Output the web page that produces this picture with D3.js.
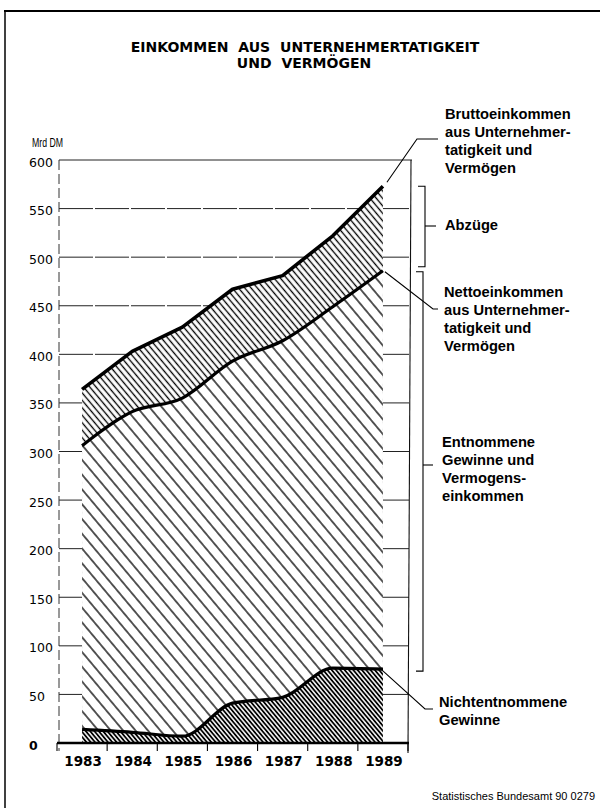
<!DOCTYPE html>
<html lang="de">
<head>
<meta charset="utf-8">
<title>Einkommen aus Unternehmertätigkeit und Vermögen</title>
<script src="https://cdn.jsdelivr.net/npm/d3@7"></script>
<style>
  html, body { margin: 0; padding: 0; background: #fff; }
  svg { display: block; }
</style>
</head>
<body>
<div id="chart"></div>
<script>
// --- Data (Mrd DM) ---
const years = ["1983", "1984", "1985", "1986", "1987", "1988", "1989"];
const brutto = [364, 403, 428, 467, 481, 522, 573];          // Bruttoeinkommen
const netto = [306, 341, 355, 393, 414, 449, 486];           // Nettoeinkommen
const nichtentnommen = [14, 11, 7, 41, 47, 77, 76];          // Nichtentnommene Gewinne
const yTicks = [0, 50, 100, 150, 200, 250, 300, 350, 400, 450, 500, 550, 600];

const W = 600, H = 808;
const svg = d3.select("#chart").append("svg")
  .attr("width", W).attr("height", H)
  .attr("viewBox", `0 0 ${W} ${H}`);

// --- Scales ---
const x = d3.scaleBand().domain(years).range([57, 408]).padding(0);
const cx = d => x(d) + x.bandwidth() / 2;
const y = d3.scaleLinear().domain([0, 600]).range([743, 160]);

const rows = years.map((yr, i) => ({ yr, b: brutto[i], n: netto[i], r: nichtentnommen[i] }));

// --- Hatch patterns ---
const defs = svg.append("defs");
function hatch(id, gap, width) {
  const p = defs.append("pattern")
    .attr("id", id)
    .attr("patternUnits", "userSpaceOnUse")
    .attr("width", gap).attr("height", gap)
    .attr("patternTransform", "rotate(-40)");
  p.append("rect").attr("width", gap).attr("height", gap).attr("fill", "#fff");
  p.append("line")
    .attr("x1", gap / 2).attr("x2", gap / 2)
    .attr("y1", 0).attr("y2", gap)
    .attr("stroke", "#000").attr("stroke-width", width);
}
hatch("h-abzug", 4.8, 1.35);
hatch("h-entnommen", 9.5, 1.3);
hatch("h-nicht", 3.3, 1.8);

// --- Frame ---
svg.append("line").attr("x1", 4).attr("x2", 600).attr("y1", 11).attr("y2", 11)
  .attr("stroke", "#000").attr("stroke-width", 2);
svg.append("line").attr("x1", 5).attr("x2", 5).attr("y1", 11).attr("y2", H)
  .attr("stroke", "#000").attr("stroke-width", 1.5);

// --- Title ---
const title = svg.append("text")
  .attr("text-anchor", "middle")
  .style("font-family", "'DejaVu Sans', sans-serif")
  .style("font-weight", "700")
  .style("font-size", "14px")
  .style("word-spacing", "5px");
title.append("tspan").attr("x", 305).attr("y", 52).text("EINKOMMEN AUS UNTERNEHMERTATIGKEIT");
title.append("tspan").attr("x", 304).attr("y", 67.5).text("UND VERMÖGEN");

// --- Grid ---
const left = 59, right = 409;
svg.append("g").selectAll("line")
  .data(yTicks.filter(v => v > 0))
  .join("line")
  .attr("x1", left).attr("x2", d => d === 600 ? 412 : right)
  .attr("y1", d => y(d)).attr("y2", d => y(d))
  .attr("stroke", "#222").attr("stroke-width", 1)
  .attr("stroke-dasharray", d => d === 600 ? null : "34,2");

svg.append("line").attr("x1", left).attr("x2", left).attr("y1", y(600)).attr("y2", y(0) + 8)
  .attr("stroke", "#333").attr("stroke-width", 1).attr("stroke-dasharray", "10,4");
svg.append("line").attr("x1", 411).attr("x2", 408).attr("y1", y(600)).attr("y2", y(0) + 10)
  .attr("stroke", "#111").attr("stroke-width", 1.1);

// --- Areas ---
const base = y(0);
svg.append("path").datum(rows)
  .attr("fill", "url(#h-abzug)")
  .attr("d", d3.area().x(d => cx(d.yr)).y0(base).y1(d => y(d.b)));
svg.append("path").datum(rows)
  .attr("fill", "url(#h-entnommen)")
  .attr("d", d3.area().curve(d3.curveMonotoneX).x(d => cx(d.yr)).y0(base).y1(d => y(d.n)));
svg.append("path").datum(rows)
  .attr("fill", "url(#h-nicht)")
  .attr("d", d3.area().curve(d3.curveMonotoneX).x(d => cx(d.yr)).y0(base).y1(d => y(d.r)));

// --- Lines ---
svg.append("path").datum(rows)
  .attr("fill", "none").attr("stroke", "#000").attr("stroke-width", 3.6)
  .attr("stroke-linejoin", "round")
  .attr("d", d3.line().x(d => cx(d.yr)).y(d => y(d.b)));
svg.append("path").datum(rows)
  .attr("fill", "none").attr("stroke", "#000").attr("stroke-width", 3.2)
  .attr("d", d3.line().curve(d3.curveMonotoneX).x(d => cx(d.yr)).y(d => y(d.n)));
svg.append("path").datum(rows)
  .attr("fill", "none").attr("stroke", "#000").attr("stroke-width", 3.2)
  .attr("d", d3.line().curve(d3.curveMonotoneX).x(d => cx(d.yr)).y(d => y(d.r)));

// --- X axis ---
svg.append("line").attr("x1", 57).attr("x2", 409).attr("y1", base).attr("y2", base)
  .attr("stroke", "#000").attr("stroke-width", 2.4);
const edges = years.map(x).concat([x.range()[1]]);
svg.append("g").selectAll("line").data(edges).join("line")
  .attr("x1", d => d).attr("x2", d => d)
  .attr("y1", base).attr("y2", base + 8)
  .attr("stroke", "#000").attr("stroke-width", 1.1);
svg.append("g").selectAll("text").data(years).join("text")
  .attr("x", d => cx(d) + 1).attr("y", 766)
  .attr("text-anchor", "middle")
  .style("font-family", "'DejaVu Sans', sans-serif")
  .style("font-weight", "700")
  .style("font-size", "13.5px")
  .text(d => d);

// --- Y axis labels ---
svg.append("text").attr("x", 32).attr("y", 147)
  .attr("textLength", 31).attr("lengthAdjust", "spacingAndGlyphs")
  .style("font-family", "'Liberation Sans', Arial, sans-serif")
  .style("font-size", "12px")
  .text("Mrd DM");
svg.append("g").selectAll("text").data(yTicks).join("text")
  .attr("x", 29).attr("y", d => y(d) + 6.5)
  .style("font-family", "'DejaVu Sans', sans-serif")
  .style("font-size", "12.5px")
  .style("font-weight", d => d === 0 ? "700" : "400")
  .text(d => d);

// --- Brackets ---
const last = rows[rows.length - 1];
function bracket(bx, top, bottom, midY, tickOut) {
  const g = svg.append("g").attr("fill", "none").attr("stroke", "#000").attr("stroke-width", 1.1);
  g.append("path").attr("d", `M${bx - 7},${top}H${bx}V${bottom}H${bx - 7}`);
  g.append("line").attr("x1", bx).attr("x2", bx + tickOut).attr("y1", midY).attr("y2", midY);
}
bracket(425, y(last.b) + 0, y(last.n) - 4, 226, 11);
bracket(423, y(last.n) + 1, y(last.r) + 2, 465, 10);

// --- Leader lines ---
const lead = svg.append("g").attr("fill", "none").attr("stroke", "#000").attr("stroke-width", 1.1);
lead.append("path").attr("d", `M${cx(last.yr) + 4},${y(last.b) - 4}L417,139H438`);
lead.append("path").attr("d", `M${cx(last.yr) + 2},${y(last.n) + 1}L433,309H438`);
lead.append("path").attr("d", `M${cx(last.yr) - 2},${y(last.r)}L425,709H433`);

// --- Right labels ---
const labels = [
  { x: 445, y: 119, lines: ["Bruttoeinkommen", "aus Unternehmer-", "tatigkeit und", "Vermögen"] },
  { x: 445, y: 230, lines: ["Abzüge"] },
  { x: 444, y: 297, lines: ["Nettoeinkommen", "aus Unternehmer-", "tatigkeit und", "Vermögen"] },
  { x: 442, y: 447, lines: ["Entnommene", "Gewinne und", "Vermogens-", "einkommen"] },
  { x: 439, y: 707, lines: ["Nichtentnommene", "Gewinne"] }
];
labels.forEach(l => {
  const t = svg.append("text")
    .style("font-family", "'Liberation Sans', Arial, sans-serif")
    .style("font-weight", "700")
    .style("font-size", "14.7px");
  l.lines.forEach((s, i) => t.append("tspan").attr("x", l.x).attr("y", l.y + i * 18).text(s));
});

// --- Source ---
svg.append("text").attr("x", 595).attr("y", 800)
  .attr("text-anchor", "end")
  .style("font-family", "'Liberation Sans', Arial, sans-serif")
  .style("font-size", "11px")
  .text("Statistisches Bundesamt 90 0279");
</script>
</body>
</html>
